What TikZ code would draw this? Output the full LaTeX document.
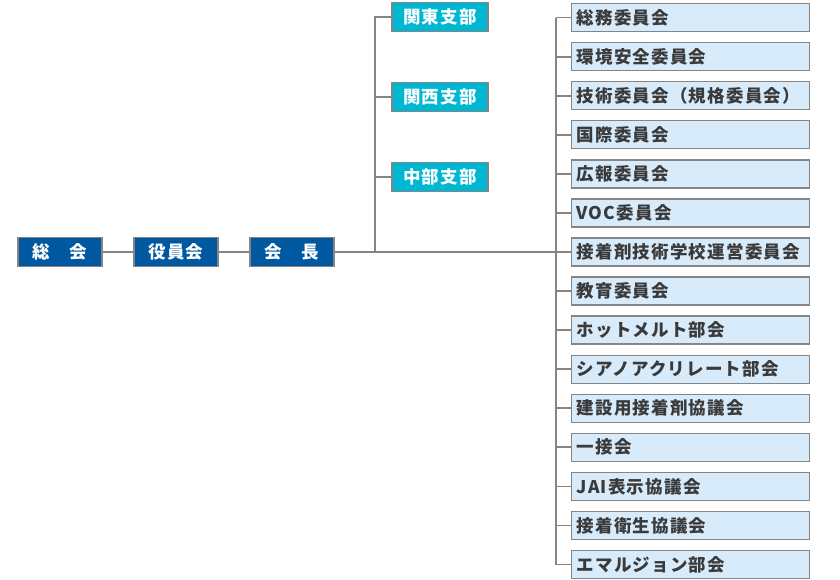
\documentclass[tikz,border=0pt]{standalone}
\usepackage{fontspec}
\setmainfont{Noto Sans CJK JP}[LetterSpace=7]
\usepackage{tikz}
\usetikzlibrary{positioning}
\usepackage{xcolor}
\definecolor{topblue}{HTML}{0058A0}
\definecolor{branch}{HTML}{00B7D3}
\definecolor{cmtfill}{HTML}{D8EBFB}
\definecolor{edge}{HTML}{858585}
\definecolor{ink}{HTML}{3A3A3A}

\begin{document}
\begin{tikzpicture}[x=1pt, y=-1pt,
  top/.style={draw=edge, line width=1.3pt, fill=topblue, text=white, minimum width=84pt, minimum height=29pt, inner sep=0pt, font=\fontsize{17.5}{20}\selectfont\bfseries},
  brn/.style={draw=edge, line width=1.3pt, fill=branch, text=white, minimum width=96pt, minimum height=29pt, inner sep=0pt, font=\fontsize{17.5}{20}\selectfont\bfseries},
  cmt/.style={draw=edge, line width=1.3pt, fill=cmtfill, text=ink, anchor=west, text width=228pt, inner xsep=5pt, inner ysep=0pt, minimum height=28pt, align=left, font=\fontsize{17.5}{20}\selectfont\bfseries},
  link/.style={draw=edge, line width=1.8pt}
]
  \useasboundingbox (0,0) rectangle (840,580);

  \node[top] (assembly) at (60,252)  {総　会};
  \node[top] (board)    at (176,252) {役員会};
  \node[top] (chair)    at (292,252) {会　長};

  \node[brn] (kanto)  at (440,17)  {関東支部};
  \node[brn] (kansai) at (440,97)  {関西支部};
  \node[brn] (chubu)  at (440,177) {中部支部};

  \foreach \t [count=\i] in {総務委員会, 環境安全委員会, 技術委員会（規格委員会）, 国際委員会, 広報委員会, VOC委員会, 接着剤技術学校運営委員会, 教育委員会, ホットメルト部会, シアノアクリレート部会, 建設用接着剤協議会, 一接会, JAI表示協議会, 接着衛生協議会, エマルジョン部会}
    \node[cmt] (c\i) at (571,{252+(\i-7)*39.07}) {\t};

  \coordinate (bj) at (375,252);
  \coordinate (cj) at (556,252);

  \draw[link] (assembly) -- (board);
  \draw[link] (board) -- (chair);
  \draw[link] (chair) -- (c7.west);
  \draw[link] (bj) |- (kanto.west);
  \draw[link] (bj |- kansai.west) -- (kansai.west);
  \draw[link] (bj |- chubu.west) -- (chubu.west);
  \draw[link] (cj |- c1.west) -- (cj |- c15.west);
  \foreach \i in {1,...,15}
    \draw[link] (cj |- c\i.west) -- (c\i.west);
\end{tikzpicture}
\end{document}
